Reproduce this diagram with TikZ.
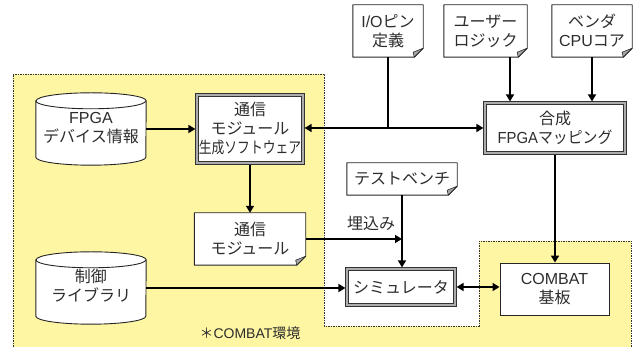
\documentclass[tikz,border=0pt]{standalone}
\usepackage{fontspec}
\setmainfont{Noto Sans CJK JP}
\newfontfamily\lat{Liberation Sans}
\usetikzlibrary{arrows.meta,calc}
\definecolor{envyellow}{RGB}{255,246,163}
\definecolor{txt}{RGB}{45,45,45}
\definecolor{foldgray}{RGB}{165,165,165}
\pgfdeclarelayer{bgA}\pgfdeclarelayer{bgB}\pgfsetlayers{bgA,bgB,main}
\tikzset{
 every node/.style={font=\fontsize{16}{19}\selectfont, text=txt, align=center, inner sep=0pt},
 plainbox/.style={draw=black!85, line width=0.9pt, fill=white},
 dblbox/.style={draw=black!80, line width=0.8pt, double=gray!65, double distance=1.5pt, fill=white, outer sep=1.6pt},
 ghost/.style={draw=none},
 arr/.style={line width=1.6pt, -{Triangle[length=7pt,width=8pt]}},
 link/.style={line width=1.6pt},
 barr/.style={line width=1.6pt, {Triangle[length=7pt,width=8pt]}-{Triangle[length=7pt,width=8pt]}},
 envline/.style={line width=0.7pt, dash pattern=on 1.5pt off 1pt, draw=black!80},
 smalltext/.style={font=\fontsize{14}{17}\selectfont},
}
\newcommand\docfig[1]{%
 \begin{pgfonlayer}{bgB}
 \filldraw[fill=white, draw=black!85, line width=0.9pt, line join=round] (#1.north west) -- (#1.north east) -- ([yshift=9pt]#1.south east) -- ([xshift=-9pt]#1.south east) -- (#1.south west) -- cycle;
 \filldraw[fill=foldgray, draw=black!85, line width=0.6pt, line join=round] ([yshift=9pt]#1.south east) -- ([xshift=-10pt,yshift=5pt]#1.south east) -- ([xshift=-9pt]#1.south east) -- cycle;
 \end{pgfonlayer}}
\newcommand\cylfig[1]{%
 \begin{pgfonlayer}{bgB}
 \filldraw[fill=white, draw=black!85, line width=0.9pt] ([yshift=-8pt]#1.north west) -- ([yshift=8pt]#1.south west) arc[start angle=180,end angle=360,x radius=55pt,y radius=8pt] -- ([yshift=-8pt]#1.north east) arc[start angle=0,end angle=180,x radius=55pt,y radius=8pt] -- cycle;
 \draw[draw=black!85, line width=0.9pt] ([yshift=-8pt]#1.north west) arc[start angle=180,end angle=360,x radius=55pt,y radius=8pt];
 \end{pgfonlayer}}
\begin{document}
\begin{tikzpicture}[x=1pt,y=1pt]
\useasboundingbox (0,0) rectangle (635,347);
\begin{pgfonlayer}{bgA}
\fill[envyellow] (13,273) -- (324,273) -- (324,21) -- (479,21) -- (479,106) -- (631,106) -- (631,0) -- (13,0) -- cycle;
\draw[envline] (13,0) -- (13,273) -- (324,273) -- (324,21) -- (479,21) -- (479,106) -- (631,106) -- (631,0);
\end{pgfonlayer}
% nodes
\node[ghost, minimum width=110pt, minimum height=72pt] (fpga) at (91,218) {\raisebox{-8pt}{\begin{tabular}{@{}c@{}}{\lat FPGA}\\デバイス情報\end{tabular}}};
\cylfig{fpga}
\node[dblbox, minimum width=106pt, minimum height=68pt] (gen) at (250,218) {通信\\モジュール\\\scalebox{0.8}[1]{生成ソフトウェア}};
\node[ghost, minimum width=70pt, minimum height=52pt] (io) at (388,316) {{\lat I/O}ピン\\定義};
\docfig{io}
\node[ghost, minimum width=83pt, minimum height=52pt] (user) at (485.5,316) {ユーザー\\ロジック};
\docfig{user}
\node[ghost, minimum width=80pt, minimum height=52pt] (vendor) at (592,316) {ベンダ\\{\lat CPU}コア};
\docfig{vendor}
\node[dblbox, minimum width=140pt, minimum height=50pt] (synth) at (555,219) {合成\\\scalebox{0.93}[1]{{\lat FPGA}マッピング}};
\node[ghost, minimum width=110pt, minimum height=32pt] (test) at (402,168) {テストベンチ};
\docfig{test}
\node[ghost, minimum width=111pt, minimum height=52pt] (comm) at (250,108) {通信\\モジュール};
\docfig{comm}
\node[ghost, minimum width=110pt, minimum height=72pt] (ctrl) at (91,59) {\raisebox{-8pt}{\begin{tabular}{@{}c@{}}制御\\ライブラリ\end{tabular}}};
\cylfig{ctrl}
\node[dblbox, minimum width=108pt, minimum height=36pt] (sim) at (401,60) {シミュレータ};
\node[plainbox, minimum width=109pt, minimum height=52pt] (combat) at (554.5,58) {{\lat COMBAT}\\基板};
\node (emb) at (371,124) {埋込み};
\node[smalltext] (env) at (250,14) {＊{\lat COMBAT}環境};
% connectors
\coordinate (j) at (io.south |- synth.west);
\coordinate (ux) at (510,0);
\draw[arr] (fpga.east) -- (gen.west);
\draw[link] (io.south) -- (j);
\draw[arr] (j) -- (j -| gen.east);
\draw[arr] (j) -- (synth.west);
\draw[arr] (ux |- user.south) -- (ux |- synth.north);
\draw[arr] (vendor.south) -- (vendor.south |- synth.north);
\draw[arr] (synth.south) -- (synth.south |- combat.north);
\draw[arr] (gen.south) -- (comm.north);
\draw[arr] (comm.east) -- (comm.east -| test.south);
\draw[arr] (test.south) -- (test.south |- sim.north);
\draw[arr] (ctrl.east) -- (ctrl.east -| sim.west);
\draw[barr] (sim.east) -- (sim.east -| combat.west);
\end{tikzpicture}
\end{document}
